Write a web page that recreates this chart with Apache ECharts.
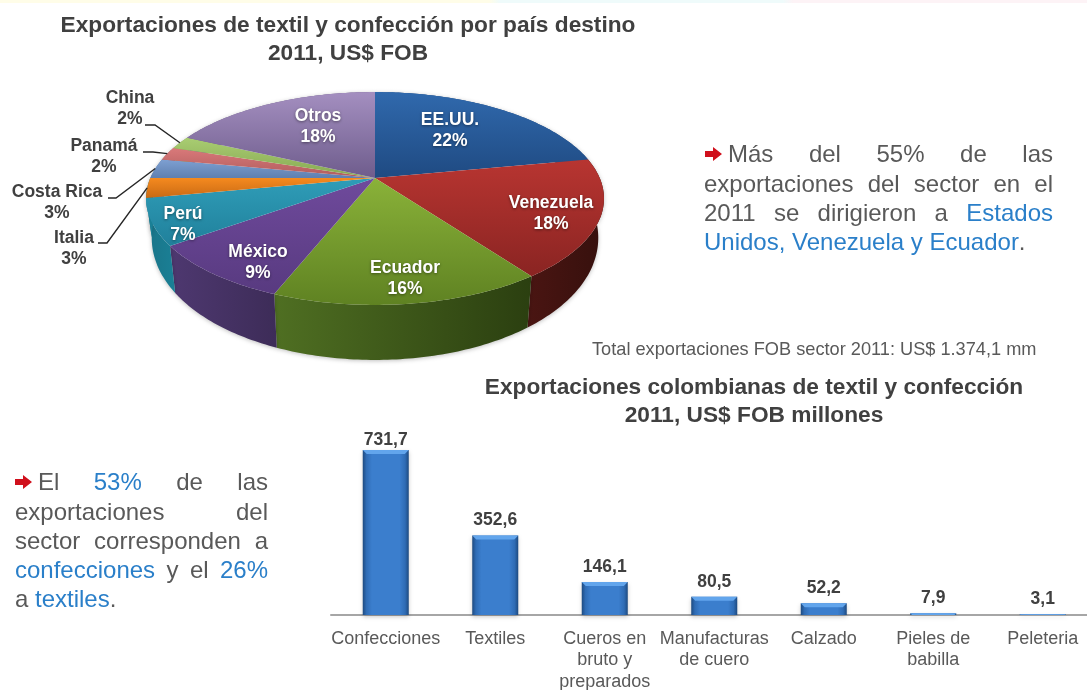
<!DOCTYPE html>
<html>
<head>
<meta charset="utf-8">
<style>
  html, body { margin: 0; padding: 0; background: #fff; }
  #main { width: 1087px; height: 690px; filter: blur(0.6px); }
</style>
<script src="https://cdn.jsdelivr.net/npm/echarts@6/dist/echarts.min.js"></script>
</head>
<body>
<div id="main"></div>
<script>
// pie data, clockwise from 12 o'clock
const paises = ['EE.UU.', 'Venezuela', 'Ecuador', 'México', 'Perú', 'Italia', 'Costa Rica', 'Panamá', 'China', 'Otros'];
const participacion = [22, 18, 16, 9, 7, 3, 3, 2, 2, 18];

// bar data
const productos = ['Confecciones', 'Textiles', 'Cueros en\nbruto y\npreparados', 'Manufacturas\nde cuero', 'Calzado', 'Pieles de\nbabilla', 'Peleteria'];
const exportaciones = [731.7, 352.6, 146.1, 80.5, 52.2, 7.9, 3.1];

// slice colours: top of face, bottom of face, wall left, wall right
const colores = [
  ['#3069ad', '#1f4a82', '#1f4a82', '#1f4a82'],
  ['#b83531', '#8a2422', '#4a1512', '#36100d'],
  ['#8ab239', '#5f8222', '#4f6f22', '#2b3f10'],
  ['#6f4a9c', '#583a80', '#4e3870', '#3d2c58'],
  ['#2f9db8', '#20809b', '#1a7488', '#1a8096'],
  ['#f58a1f', '#c96a14', '#1a8096', '#1a8096'],
  ['#7ea0d2', '#5f80b0', '#5f80b0', '#5f80b0'],
  ['#d9797a', '#b05c5c', '#b05c5c', '#b05c5c'],
  ['#a9cd72', '#86a852', '#86a852', '#86a852'],
  ['#a48fc0', '#6e5c8c', '#6e5c8c', '#6e5c8c']
];

// label centres; the outside ones also get a leader line
const etiquetas = {
  'EE.UU.': { x: 450, y: 131, dentro: true },
  'Venezuela': { x: 551, y: 214, dentro: true },
  'Ecuador': { x: 405, y: 279, dentro: true },
  'México': { x: 258, y: 263, dentro: true },
  'Perú': { x: 183, y: 225, dentro: true },
  'Otros': { x: 318, y: 127, dentro: true },
  'Italia': { x: 74, y: 249, desde: [98, 243], codo: [107, 243] },
  'Costa Rica': { x: 57, y: 203, desde: [108, 198], codo: [116, 198] },
  'Panamá': { x: 104, y: 157, desde: [143, 152], codo: [153, 152] },
  'China': { x: 130, y: 109, desde: [145, 125], codo: [155, 125] }
};

// perspective of the pie disc
const PIE = { cx: 375, cy: 178, a: 224.7, b: 102.5, k: 0.1925, escala: 0.975 };
const total = participacion.reduce((s, v) => s + v, 0);
const inicio = [];
participacion.reduce((s, v, i) => { inicio[i] = s; return s + v; }, 0);

function puntoDisco(pct, r) {
  const t = pct / total * Math.PI * 2;
  const u = Math.sin(t) * r, v = -Math.cos(t) * r;
  const w = 1 - PIE.k * v;
  return { x: PIE.a * u / w, y: PIE.b * v / w, v: v };
}
function arriba(pct, r) {
  const p = puntoDisco(pct, r);
  return [PIE.cx + p.x, PIE.cy + p.y];
}
function abajo(pct) {
  const p = puntoDisco(pct, 1);
  return [PIE.cx + p.x * PIE.escala, PIE.cy + p.y + 35.6 + 19.4 * p.v];
}
function arco(i, fn) {
  const pts = [];
  const pasos = Math.ceil(participacion[i] * 4);
  for (let s = 0; s <= pasos; s++) pts.push(fn(inicio[i] + participacion[i] * s / pasos, 1));
  return pts;
}

function renderPared(params, api) {
  const i = params.dataIndex;
  const pts = arco(i, arriba).concat(arco(i, abajo).reverse());
  return {
    type: 'polygon',
    shape: { points: pts },
    style: {
      fill: new echarts.graphic.LinearGradient(0, 0, 1, 0, [
        { offset: 0, color: colores[i][2] },
        { offset: 1, color: colores[i][3] }
      ]),
      shadowColor: 'rgba(0,0,0,0.25)', shadowBlur: 4, shadowOffsetY: 1
    }
  };
}

function renderCara(params, api) {
  const i = params.dataIndex;
  const pts = [[PIE.cx, PIE.cy]].concat(arco(i, arriba));
  const hijos = [{
    type: 'polygon',
    shape: { points: pts },
    style: {
      fill: new echarts.graphic.LinearGradient(0, 0, 0, 1, [
        { offset: 0, color: colores[i][0] },
        { offset: 1, color: colores[i][1] }
      ])
    }
  }];
  const nombre = paises[i];
  const et = etiquetas[nombre];
  const medio = inicio[i] + participacion[i] / 2;
  const texto = nombre + '\n' + api.value(0) + '%';
  if (et.dentro) {
    hijos.push({
      type: 'text', z2: 10,
      style: {
        text: texto, x: et.x, y: et.y, align: 'center', verticalAlign: 'middle',
        fill: '#fff', font: 'bold 17.5px "Liberation Sans"', lineHeight: 21,
        textShadowColor: 'rgba(0,0,0,0.45)', textShadowBlur: 3, textShadowOffsetY: 1
      }
    });
  } else {
    hijos.push({
      type: 'text', z2: 10,
      style: {
        text: texto, x: et.x, y: et.y, align: 'center', verticalAlign: 'middle',
        fill: '#404040', font: 'bold 17.5px "Liberation Sans"', lineHeight: 21
      }
    });
    hijos.push({
      type: 'polyline', z2: 10,
      shape: { points: [et.desde, et.codo, arriba(medio, 1)] },
      style: { stroke: '#262626', lineWidth: 1.4, fill: null }
    });
  }
  return { type: 'group', children: hijos };
}

function renderBisel(params, api) {
  const base = api.coord([api.value(0), 0]);
  const tope = api.coord([api.value(0), api.value(1)]);
  const m = 23;
  const h = Math.min(4, base[1] - tope[1]);
  return {
    type: 'polygon',
    shape: { points: [[tope[0] - m, tope[1]], [tope[0] + m, tope[1]], [tope[0] + m - h, tope[1] + h], [tope[0] - m + h, tope[1] + h]] },
    style: { fill: '#62a5ec' }
  };
}

// justified paragraph lines, each word is its own text so the gaps match the slide
const ctx = document.createElement('canvas').getContext('2d');
const FUENTE = '24px "Liberation Sans"';
ctx.font = FUENTE;
const GRIS = '#595959', AZUL = '#2a7fc9';
const ESPACIO = ctx.measureText(' ').width;

function linea(palabras, x0, x1, y, justificar) {
  const anchos = palabras.map(p => ctx.measureText(p[0]).width);
  const suma = anchos.reduce((s, v) => s + v, 0);
  const hueco = justificar ? (x1 - x0 - suma) / (palabras.length - 1) : ESPACIO;
  let x = x0;
  return palabras.map((p, i) => {
    if (p[0] === '.') x -= hueco;
    const el = {
      type: 'text', x: x, y: y,
      style: { text: p[0], fill: p[1] || GRIS, font: FUENTE, verticalAlign: 'middle' }
    };
    x += anchos[i] + hueco;
    return el;
  });
}
function vineta(x, y) {
  return {
    type: 'polygon',
    shape: { points: [[x, y - 3], [x + 8, y - 3], [x + 8, y - 7], [x + 17, y], [x + 8, y + 7], [x + 8, y + 3], [x, y + 3]] },
    style: { fill: '#d0101c' }
  };
}

const textos = [
  {
    type: 'rect', shape: { x: 0, y: 0, width: 1087, height: 3 },
    style: {
      fill: new echarts.graphic.LinearGradient(0, 0, 1, 0, [
        { offset: 0, color: '#fffde8' },
        { offset: 0.45, color: '#fffde8' },
        { offset: 0.46, color: '#effbfb' },
        { offset: 0.72, color: '#effbfb' },
        { offset: 0.73, color: '#fdf3f6' },
        { offset: 1, color: '#fdf3f6' }
      ])
    }
  },
  vineta(705, 154),
  ...linea([['Más'], ['del'], ['55%'], ['de'], ['las']], 728, 1053, 155, true),
  ...linea([['exportaciones'], ['del'], ['sector'], ['en'], ['el']], 704, 1053, 185, true),
  ...linea([['2011'], ['se'], ['dirigieron'], ['a'], ['Estados', AZUL]], 704, 1053, 214, true),
  ...linea([['Unidos,', AZUL], ['Venezuela', AZUL], ['y', AZUL], ['Ecuador', AZUL], ['.']], 704, 1053, 243, false),
  vineta(15, 482),
  ...linea([['El'], ['53%', AZUL], ['de'], ['las']], 38, 268, 483, true),
  ...linea([['exportaciones'], ['del']], 15, 268, 513, true),
  ...linea([['sector'], ['corresponden'], ['a']], 15, 268, 542, true),
  ...linea([['confecciones', AZUL], ['y'], ['el'], ['26%', AZUL]], 15, 268, 571, true),
  ...linea([['a'], ['textiles', AZUL], ['.']], 15, 268, 600, false),
  {
    type: 'text', x: 592, y: 350,
    style: { text: 'Total exportaciones FOB sector 2011: US$ 1.374,1 mm', fill: GRIS, font: '18.2px "Liberation Sans"', verticalAlign: 'middle' }
  }
];

const chart = echarts.init(document.getElementById('main'));
chart.setOption({
  backgroundColor: '#fff',
  animation: false,
  title: [
    {
      text: 'Exportaciones de textil y confección por país destino\n2011, US$ FOB',
      left: 343, top: 7, textAlign: 'center',
      textStyle: { fontFamily: 'Liberation Sans', fontSize: 22.7, fontWeight: 'bold', color: '#404040', lineHeight: 27.5 }
    },
    {
      text: 'Exportaciones colombianas de textil y confección\n2011, US$ FOB millones',
      left: 749, top: 369, textAlign: 'center',
      textStyle: { fontFamily: 'Liberation Sans', fontSize: 22.7, fontWeight: 'bold', color: '#404040', lineHeight: 27.5 }
    }
  ],
  grid: { left: 331, top: 434.6, width: 766.5, height: 180.4, outerBoundsMode: 'none' },
  xAxis: {
    type: 'category',
    data: productos,
    axisTick: { show: false },
    axisLine: { lineStyle: { color: '#a6a6a6', width: 2 } },
    axisLabel: {
      interval: 0, margin: 13, color: '#595959',
      fontFamily: 'Liberation Sans', fontSize: 18, lineHeight: 21.5
    }
  },
  yAxis: { type: 'value', min: 0, max: 800, show: false, splitLine: { show: false } },
  graphic: textos,
  series: [
    {
      type: 'custom', coordinateSystem: 'none', name: 'pared',
      data: participacion, renderItem: renderPared, silent: true, z: 1
    },
    {
      type: 'custom', coordinateSystem: 'none', name: 'cara',
      data: participacion, renderItem: renderCara, silent: true, z: 2
    },
    {
      type: 'bar',
      data: exportaciones.map((v, i) => (i === 0 ? { value: v, label: { distance: 1 } } : v)),
      barWidth: 46,
      z: 3,
      itemStyle: {
        color: new echarts.graphic.LinearGradient(0, 0, 1, 0, [
          { offset: 0, color: '#1d4a80' },
          { offset: 0.08, color: '#2f6cb5' },
          { offset: 0.2, color: '#3b7ecd' },
          { offset: 0.8, color: '#3b7ecd' },
          { offset: 0.92, color: '#2f6cb5' },
          { offset: 1, color: '#1d4a80' }
        ]),
        shadowColor: 'rgba(0,0,0,0.2)', shadowBlur: 4, shadowOffsetY: 2
      },
      label: {
        show: true, position: 'top', distance: 6,
        color: '#404040', fontFamily: 'Liberation Sans', fontSize: 17.5, fontWeight: 'bold',
        formatter: p => String(p.value).replace('.', ',')
      }
    },
    {
      type: 'custom', name: 'bisel',
      data: exportaciones.map((v, i) => [i, v]),
      encode: { x: 0, y: 1 },
      renderItem: renderBisel, silent: true, z: 4
    }
  ]
});
</script>
</body>
</html>
